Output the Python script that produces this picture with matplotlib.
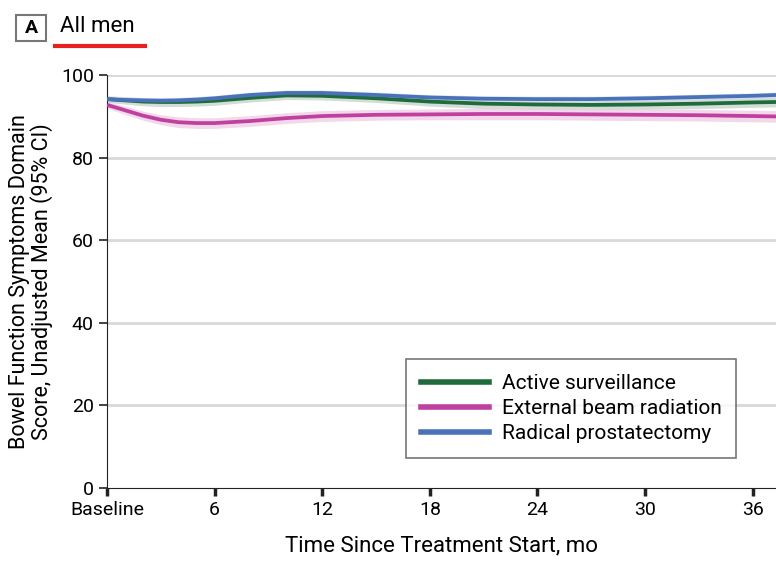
import matplotlib
matplotlib.use("Agg")
import matplotlib.pyplot as plt
from matplotlib.patches import Rectangle
from matplotlib.lines import Line2D

# ---- data: bowel function score, unadjusted mean by month ----
months = [0, 1, 2, 3, 4, 5, 6, 8, 10, 12, 15, 18, 21, 24, 27, 30, 33, 36, 37.3]

active = [94.2, 93.9, 93.6, 93.5, 93.5, 93.6, 93.8, 94.5, 95.1, 95.0, 94.4, 93.6,
          93.1, 92.9, 92.8, 92.9, 93.1, 93.4, 93.5]
active_ci = [0.8, 0.9, 1.0, 1.1, 1.1, 1.1, 1.1, 1.0, 1.0, 1.0, 1.0, 1.1,
             1.2, 1.2, 1.2, 1.2, 1.2, 1.2, 1.2]

ebrt = [92.8, 91.5, 90.2, 89.2, 88.6, 88.4, 88.4, 88.9, 89.6, 90.1, 90.4, 90.5,
        90.6, 90.6, 90.5, 90.4, 90.3, 90.1, 90.0]
ebrt_ci = [0.8, 1.0, 1.1, 1.2, 1.3, 1.3, 1.3, 1.3, 1.3, 1.3, 1.3, 1.3,
           1.4, 1.4, 1.4, 1.4, 1.4, 1.4, 1.4]

rp = [94.2, 94.0, 93.9, 93.8, 93.9, 94.1, 94.4, 95.2, 95.7, 95.7, 95.2, 94.6,
      94.3, 94.2, 94.2, 94.4, 94.7, 95.0, 95.2]
rp_ci = [0.6, 0.6, 0.7, 0.7, 0.7, 0.7, 0.7, 0.7, 0.7, 0.7, 0.7, 0.7,
         0.7, 0.7, 0.7, 0.7, 0.7, 0.7, 0.7]

labels = ["Active surveillance", "External beam radiation", "Radical prostatectomy"]
colours = ["#1f6b3b", "#c0409f", "#4a72b8"]
band_colours = ["#c3d2c7", "#eecbe3", "#d0dbee"]

xticks = [0, 6, 12, 18, 24, 30, 36]
xticklabels = ["Baseline", "6", "12", "18", "24", "30", "36"]
yticks = [0, 20, 40, 60, 80, 100]

plt.rcParams["font.family"] = ["Roboto", "DejaVu Sans"]

fig = plt.figure(figsize=(7.76, 5.61), dpi=100)
ax = fig.add_axes([0.138, 0.130, 0.862, 0.736])

series = [active, ebrt, rp]
cis = [active_ci, ebrt_ci, rp_ci]

# confidence bands first, lines on top
for s, ci, bc in zip(series, cis, band_colours):
    lo = [v - c for v, c in zip(s, ci)]
    hi = [v + c for v, c in zip(s, ci)]
    ax.fill_between(months, lo, hi, color=bc, alpha=0.75, lw=0, zorder=2)
for s, col, lab in zip(series, colours, labels):
    ax.plot(months, s, color=col, lw=2.7, label=lab, zorder=3, solid_capstyle="butt")

ax.set_xlim(0, 37.3)
ax.set_ylim(0, 100)
ax.set_xticks(xticks)
ax.set_xticklabels(xticklabels)
ax.set_yticks(yticks)
for y in yticks[1:]:
    ax.axhline(y, color="#d9d9d9", lw=2, zorder=1)

for side in ["top", "right"]:
    ax.spines[side].set_visible(False)
ax.spines["left"].set_color("#222222")
ax.spines["bottom"].set_color("#222222")
ax.tick_params(axis="both", labelsize=14, length=6, width=1.2, color="#222222")
ax.tick_params(axis="x", width=2.5)

ax.set_xlabel("Time Since Treatment Start, mo", fontsize=16, labelpad=12)
ax.set_ylabel("Bowel Function Symptoms Domain\nScore, Unadjusted Mean (95% CI)",
              fontsize=15.5, labelpad=6, linespacing=1.0)

handles = [Line2D([0], [0], color=c, lw=4) for c in colours]
leg = ax.legend(handles, labels, loc="upper left", bbox_to_anchor=(0.447, 0.312),
                fontsize=15, frameon=True, fancybox=False, handlelength=3.3,
                handletextpad=0.6, borderpad=0.7, labelspacing=0.3, borderaxespad=0)
leg.get_frame().set_edgecolor("#555555")
leg.get_frame().set_linewidth(1.2)

# panel tag and title
fig.patches.append(Rectangle((16 / 776, 1 - 41 / 561), 30 / 776, 26 / 561,
                             transform=fig.transFigure, fill=False,
                             edgecolor="#777777", lw=1.5))
fig.text(31 / 776, 1 - 28 / 561, "A", ha="center", va="center",
         fontsize=14, fontweight="bold")
fig.text(60 / 776, 1 - 27 / 561, "All men", ha="left", va="center", fontsize=16)
fig.add_artist(Line2D([55 / 776, 145 / 776], [1 - 46 / 561, 1 - 46 / 561],
                      transform=fig.transFigure, color="#e8201e", lw=3))

fig.savefig("out.png", dpi=100)
